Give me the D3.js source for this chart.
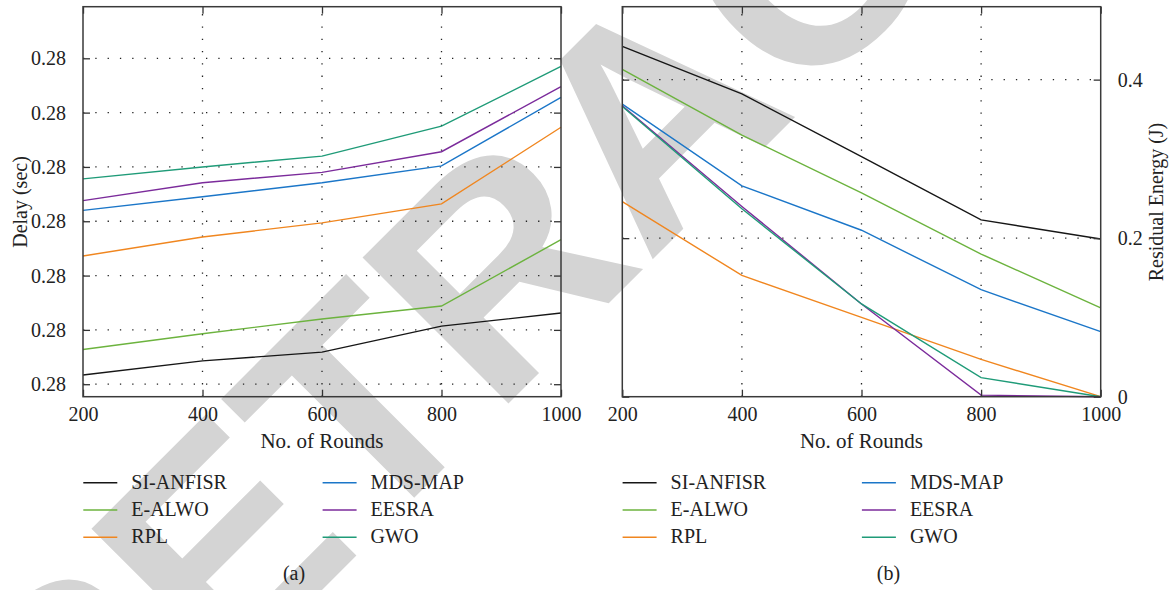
<!DOCTYPE html>
<html>
<head>
<meta charset="utf-8">
<script src="https://cdn.jsdelivr.net/npm/d3@7"></script>
<style>
  html, body { margin: 0; padding: 0; background: #fff; }
  svg text { font-family: "Liberation Serif", "Times New Roman", serif; fill: #222; }
</style>
</head>
<body>
<svg id="chart" width="1171" height="590"></svg>
<script>
// ---------- data ----------
const rounds = [200, 400, 600, 800, 1000];
const seriesNames = ["SI-ANFISR", "E-ALWO", "RPL", "MDS-MAP", "EESRA", "GWO"];
const seriesColors = ["#161616", "#6cb33e", "#f0861f", "#1b76c8", "#7b2b9b", "#1f9b78"];

// (a) Delay (sec)
const delaySI    = [0.27567, 0.27593, 0.27609, 0.27657, 0.27681];
const delayEALWO = [0.27614, 0.27643, 0.27670, 0.27694, 0.27816];
const delayRPL   = [0.27786, 0.27821, 0.27847, 0.27882, 0.28023];
const delayMDS   = [0.27870, 0.27895, 0.27921, 0.27952, 0.28078];
const delayEESRA = [0.27888, 0.27921, 0.27940, 0.27978, 0.28098];
const delayGWO   = [0.27928, 0.27950, 0.27970, 0.28025, 0.28135];
const delayTicks = [0.2755, 0.2765, 0.2775, 0.2785, 0.2795, 0.2805, 0.2815];

// (b) Residual Energy (J)
const energySI    = [0.442, 0.382, 0.303, 0.223, 0.199];
const energyEALWO = [0.413, 0.330, 0.257, 0.180, 0.112];
const energyRPL   = [0.246, 0.153, 0.100, 0.047, 0.000];
const energyMDS   = [0.369, 0.266, 0.210, 0.135, 0.082];
const energyEESRA = [0.367, 0.240, 0.117, 0.002, 0.000];
const energyGWO   = [0.366, 0.237, 0.117, 0.024, 0.000];
const energyTicks = [0, 0.2, 0.4];

const delaySeries  = [delaySI, delayEALWO, delayRPL, delayMDS, delayEESRA, delayGWO];
const energySeries = [energySI, energyEALWO, energyRPL, energyMDS, energyEESRA, energyGWO];

// ---------- drawing ----------
const svg = d3.select("#chart");

// watermark (behind everything)
svg.append("text")
  .attr("transform", "translate(70,842) rotate(-45)")
  .style("font-family", "'Liberation Sans', Arial, sans-serif")
  .style("font-weight", "bold")
  .style("font-size", "300px")
  .style("fill", "#d4d4d4")
  .text("RETRACTED");

function panel(opts) {
  const { left, right, top, bottom, yDomain, yTicks, yFmt, series, yOnRight, yTitle, caption, captionX } = opts;
  const g = svg.append("g");
  const x = d3.scaleLinear().domain([200, 1000]).range([left, right]);
  const y = d3.scaleLinear().domain(yDomain).range([bottom, top]);
  const tickLen = 7;

  // grid
  const gridX = rounds.filter(r => r > 200 && r < 1000);
  g.selectAll(".gx").data(gridX).enter().append("line")
    .attr("x1", d => x(d)).attr("x2", d => x(d))
    .attr("y1", bottom).attr("y2", top)
    .attr("stroke", "#222").attr("stroke-width", 1.3)
    .attr("stroke-dasharray", "1.3,11");
  const gridY = yTicks.filter(t => y(t) < bottom - 1 && y(t) > top + 1);
  g.selectAll(".gy").data(gridY).enter().append("line")
    .attr("x1", left).attr("x2", right)
    .attr("y1", d => y(d)).attr("y2", d => y(d))
    .attr("stroke", "#222").attr("stroke-width", 1.3)
    .attr("stroke-dasharray", "1.3,11");

  // lines
  const line = d3.line().x((d, i) => x(rounds[i])).y(d => y(d));
  series.forEach((s, k) => {
    g.append("path").datum(s)
      .attr("d", line)
      .attr("fill", "none")
      .attr("stroke", seriesColors[k])
      .attr("stroke-width", 1.4);
  });

  // axes with inward ticks on all sides
  const axB = d3.axisBottom(x).tickValues(rounds).tickSizeInner(-tickLen).tickSizeOuter(0).tickFormat(d3.format("d"));
  const axT = d3.axisTop(x).tickValues(rounds).tickSizeInner(-tickLen).tickSizeOuter(0).tickFormat("");
  const axL = d3.axisLeft(y).tickValues(yTicks).tickSizeInner(-tickLen).tickSizeOuter(0);
  const axR = d3.axisRight(y).tickValues(yTicks).tickSizeInner(-tickLen).tickSizeOuter(0);
  if (yOnRight) { axL.tickFormat(""); axR.tickFormat(yFmt).tickPadding(17); }
  else { axR.tickFormat(""); axL.tickFormat(yFmt).tickPadding(17); }

  const gb = g.append("g").attr("transform", `translate(0,${bottom})`).call(axB);
  const gt = g.append("g").attr("transform", `translate(0,${top})`).call(axT);
  const gl = g.append("g").attr("transform", `translate(${left},0)`).call(axL);
  const gr = g.append("g").attr("transform", `translate(${right},0)`).call(axR);
  [gb, gt, gl, gr].forEach(a => {
    a.select(".domain").remove();
    a.selectAll(".tick line").attr("stroke", "#333").attr("stroke-width", 1.3);
    a.selectAll(".tick text")
      .style("font-family", "'Liberation Serif', 'Times New Roman', serif")
      .style("font-size", "20px").attr("fill", "#222");
  });
  gb.selectAll(".tick text").attr("dy", 0).attr("y", 24);
  [gl, gr].forEach(a => a.selectAll(".tick text").attr("dy", "0.33em"));

  // frame
  g.append("rect")
    .attr("x", left).attr("y", top)
    .attr("width", right - left).attr("height", bottom - top)
    .attr("fill", "none").attr("stroke", "#3a3a3a").attr("stroke-width", 1.5);

  // axis titles
  g.append("text")
    .attr("x", (left + right) / 2).attr("y", 448)
    .attr("text-anchor", "middle")
    .style("font-size", "21px")
    .text("No. of Rounds");
  const ytx = yOnRight ? 1162.5 : 26.5;
  g.append("text")
    .attr("transform", `translate(${ytx},202) rotate(-90)`)
    .attr("text-anchor", "middle")
    .style("font-size", "20px")
    .text(yTitle);

  // legend
  const rowY = [482.7, 510, 537.3];
  seriesNames.forEach((name, k) => {
    const col = Math.floor(k / 3), row = k % 3;
    const lx = left + (col === 0 ? 0.3 : 239.6);
    const ly = rowY[row];
    g.append("line")
      .attr("x1", lx).attr("x2", lx + 34)
      .attr("y1", ly).attr("y2", ly)
      .attr("stroke", seriesColors[k]).attr("stroke-width", 1.5);
    g.append("text")
      .attr("x", lx + 48).attr("y", ly + 6)
      .style("font-size", "20px")
      .text(name);
  });

  // caption
  g.append("text")
    .attr("x", captionX).attr("y", 580)
    .attr("text-anchor", "middle")
    .style("font-size", "20px")
    .text(caption);
}

panel({
  left: 83, right: 561, top: 6.7, bottom: 396.7,
  yDomain: [0.27527, 0.28245], yTicks: delayTicks, yFmt: d3.format(".2f"),
  series: delaySeries, yOnRight: false, yTitle: "Delay (sec)",
  caption: "(a)", captionX: 294
});
panel({
  left: 622.3, right: 1100.7, top: 6.7, bottom: 396.7,
  yDomain: [0, 0.492], yTicks: energyTicks, yFmt: d3.format("~g"),
  series: energySeries, yOnRight: true, yTitle: "Residual Energy (J)",
  caption: "(b)", captionX: 888.5
});
</script>
</body>
</html>
